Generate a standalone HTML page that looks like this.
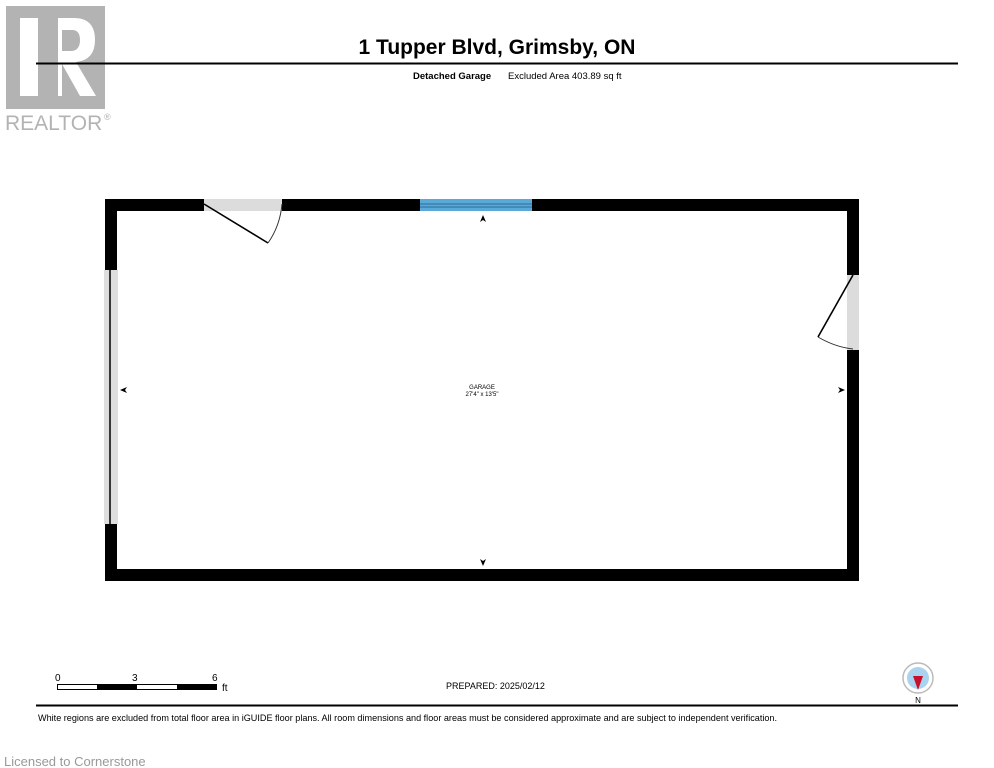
<!DOCTYPE html>
<html><head><meta charset="utf-8"><style>
html,body{margin:0;padding:0;background:#fff;width:994px;height:768px;overflow:hidden}
svg{display:block}
text{font-family:"Liberation Sans",sans-serif}
</style></head><body>
<svg width="994" height="768" viewBox="0 0 994 768" xmlns="http://www.w3.org/2000/svg">
<!-- logo -->
<rect x="6" y="6" width="99" height="103" fill="#b3b3b3"/>
<rect x="20" y="18" width="18" height="78" fill="#fff"/>
<path d="M58 18 H74 Q95 18 95 40 Q95 60 76 62 L96 96 H80 L62 64 V96 H58 Z" fill="#fff"/>
<path d="M62 30 H72 Q80 30 80 40 Q80 50 72 51 H62 Z" fill="#b3b3b3"/>
<text x="5" y="130" font-size="21" fill="#b3b3b3">REALTOR</text>
<text x="104" y="120" font-size="9" fill="#b3b3b3">®</text>
<!-- header -->
<text x="497" y="54" font-size="21" font-weight="bold" text-anchor="middle" fill="#000">1 Tupper Blvd, Grimsby, ON</text>
<line x1="36" y1="63.5" x2="958" y2="63.5" stroke="#000" stroke-width="2"/>
<text x="413" y="79" font-size="9.5" font-weight="bold" fill="#000">Detached Garage</text>
<text x="508" y="79" font-size="9.5" fill="#000">Excluded Area 403.89 sq ft</text>
<!-- walls -->
<rect x="105" y="199" width="754" height="382" fill="#000"/>
<rect x="117" y="211" width="730" height="358" fill="#fff"/>
<!-- top door -->
<rect x="204" y="199" width="78" height="12" fill="#dcdcdc"/>
<line x1="204" y1="204" x2="268" y2="243" stroke="#000" stroke-width="1.6"/>
<path d="M268 243 Q280 226 282 204" fill="none" stroke="#333" stroke-width="1"/>
<!-- window -->
<rect x="420" y="199" width="112" height="12" fill="#5aa9d8"/>
<line x1="420" y1="204" x2="532" y2="204" stroke="#2a6c99" stroke-width="1"/>
<line x1="420" y1="207" x2="532" y2="207" stroke="#2a6c99" stroke-width="1"/>
<!-- left opening -->
<rect x="104" y="270" width="14" height="254" fill="#dedede"/>
<line x1="110" y1="270" x2="110" y2="524" stroke="#000" stroke-width="1.5"/>
<!-- right door -->
<rect x="847" y="275" width="12" height="75" fill="#fff"/>
<rect x="847" y="275" width="12" height="75" fill="#dcdcdc"/>
<line x1="853" y1="275" x2="818" y2="337" stroke="#000" stroke-width="1.6"/>
<path d="M818 337 Q835 347 853 349" fill="none" stroke="#333" stroke-width="1"/>
<!-- arrows -->
<path d="M483 215 L480 222 L483 220 L486 222 Z" fill="#000"/>
<path d="M483 566 L480 559 L483 561 L486 559 Z" fill="#000"/>
<path d="M120 390 L127 387 L125 390 L127 393 Z" fill="#000"/>
<path d="M845 390 L838 387 L840 390 L838 393 Z" fill="#000"/>
<text x="482" y="389" font-size="6" text-anchor="middle">GARAGE</text>
<text x="482" y="396" font-size="6" text-anchor="middle">27'4" x 13'5"</text>
<!-- scale -->
<text x="55" y="681" font-size="10">0</text>
<text x="132" y="681" font-size="10">3</text>
<text x="212" y="681" font-size="10">6</text>
<rect x="57.5" y="684.5" width="158" height="5" fill="#fff" stroke="#000" stroke-width="1"/>
<rect x="97" y="684" width="40" height="6" fill="#000"/>
<rect x="177" y="684" width="40" height="6" fill="#000"/>
<text x="222" y="691" font-size="10">ft</text>
<text x="446" y="689" font-size="9">PREPARED: 2025/02/12</text>
<!-- compass -->
<circle cx="918" cy="678" r="15" fill="#fff" stroke="#bbb" stroke-width="1.5"/>
<circle cx="918" cy="678" r="11" fill="#a9d3ef"/>
<path d="M913 676 L923 676 L918 690 Z" fill="#c8102e"/>
<text x="918" y="703" font-size="8" text-anchor="middle">N</text>
<line x1="36" y1="705.5" x2="958" y2="705.5" stroke="#000" stroke-width="2"/>
<text x="38" y="721" font-size="9.1">White regions are excluded from total floor area in iGUIDE floor plans. All room dimensions and floor areas must be considered approximate and are subject to independent verification.</text>
<text x="4" y="766" font-size="13" fill="#999">Licensed to Cornerstone</text>
</svg>
</body></html>
